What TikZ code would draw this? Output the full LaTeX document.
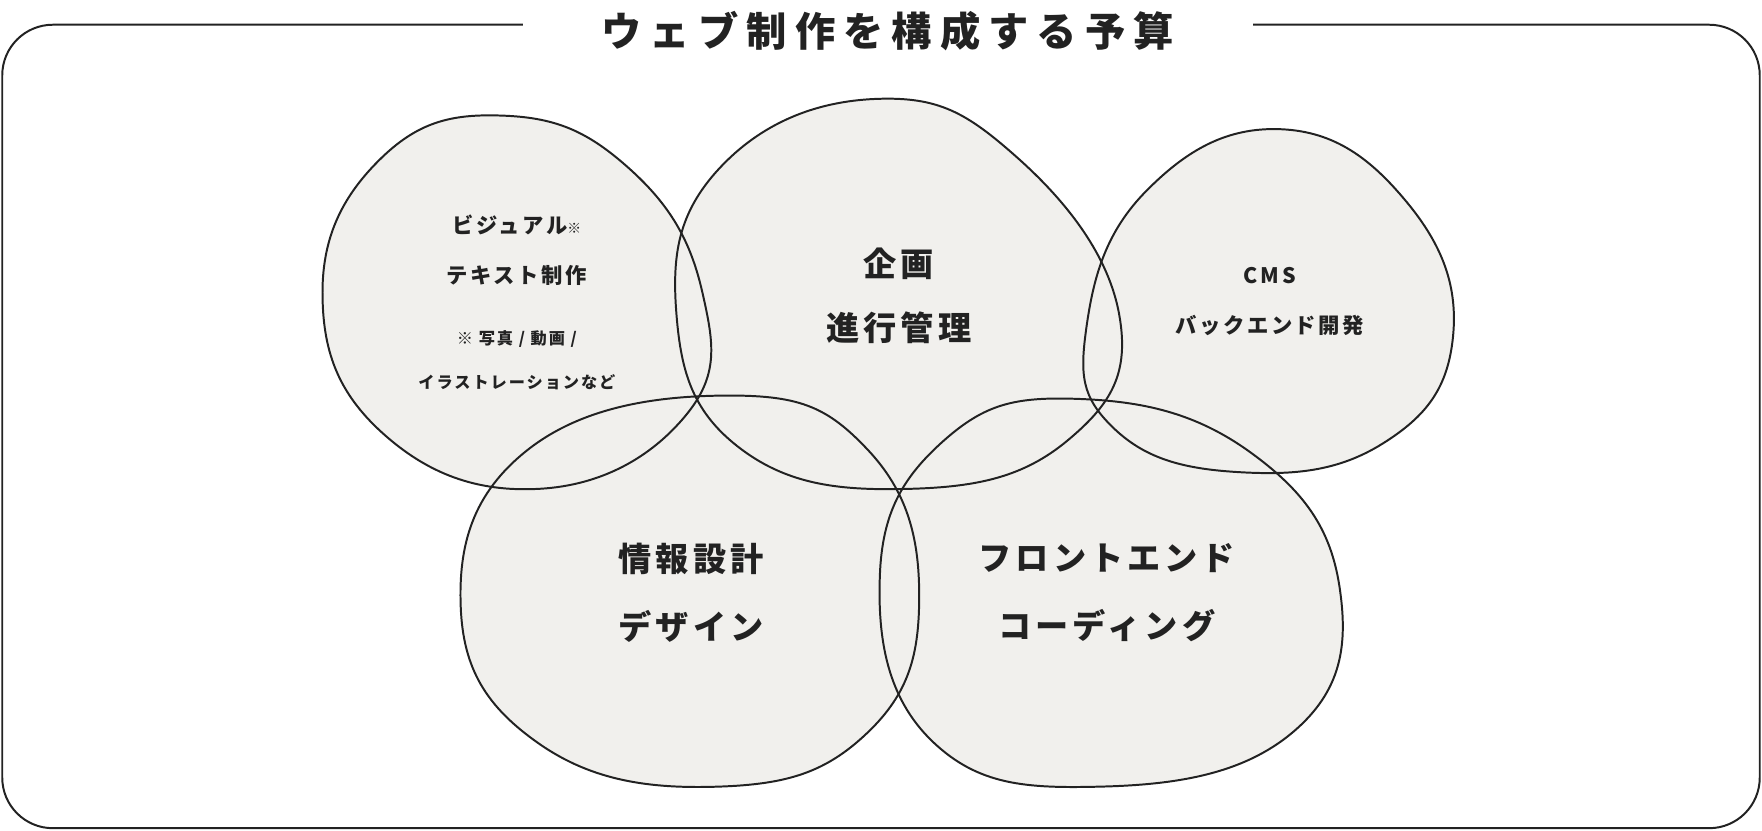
\documentclass[tikz,border=0pt]{standalone}
\usepackage{fontspec}
\newfontfamily\jp[LetterSpace=12]{Noto Sans CJK JP}
\newfontfamily\jpwide[LetterSpace=20]{Noto Sans CJK JP}
\definecolor{ink}{HTML}{222222}
\definecolor{paper}{HTML}{F1F0ED}
\tikzset{
  blob/.style={smooth cycle,tension=0.75},
  biglabel/.style={text=ink,font=\jp\bfseries\fontsize{8.4}{10}\selectfont},
  midlabel/.style={text=ink,font=\jp\bfseries\fontsize{5.4}{7}\selectfont},
  smalllabel/.style={text=ink,font=\jp\bfseries\fontsize{4.1}{5}\selectfont}
}
\begin{document}
\begin{tikzpicture}[x=0.01cm,y=-0.01cm]
  \useasboundingbox[fill=white] (0,0) rectangle (1568,739);

  % frame with gap for the title
  \draw[ink,line width=0.5pt,rounded corners=0.45cm] (2,22) rectangle (1566,737);
  \fill[white] (465,10) rectangle (1115,34);
  \node[text=ink,font=\jpwide\bfseries\fontsize{10.2}{12}\selectfont] (title) at (790,28) {ウェブ制作を構成する予算};

  % blobs
  \def\bA{(450,103) (560,150) (625,260) (610,370) (480,435) (340,385) (287,260) (340,140)}
  \def\bB{(780,88) (905,140) (996,280) (950,392) (810,435) (660,400) (602,280) (640,150)}
  \def\bC{(1140,115) (1252,180) (1293,300) (1230,395) (1100,420) (990,380) (967,290) (1020,170)}
  \def\bD{(650,352) (772,400) (818,530) (772,652) (640,700) (480,662) (410,540) (470,400)}
  \def\bE{(960,355) (1112,402) (1192,522) (1150,652) (980,700) (830,660) (783,512) (840,392)}
  \foreach \b in {\bA,\bB,\bC,\bD,\bE}
    \fill[paper] plot[blob] coordinates {\b};
  \foreach \b in {\bA,\bB,\bC,\bD,\bE}
    \draw[ink,line width=0.5pt] plot[blob] coordinates {\b};

  % labels
  \node[midlabel] (visual) at (460,200) {ビジュアル{\fontsize{3.5}{4}\selectfont ※}};
  \node[midlabel] (text) at (460,245) {テキスト制作};
  \node[smalllabel] (note1) at (460,302) {※ 写真 / 動画 /};
  \node[smalllabel] (note2) at (460,340) {イラストレーションなど};
  \node[biglabel] (plan) at (800,235) {企画};
  \node[biglabel] (manage) at (800,292) {進行管理};
  \node[midlabel] (cms) at (1130,245) {CMS};
  \node[midlabel] (backend) at (1130,290) {バックエンド開発};
  \node[biglabel] (ia) at (615,497) {情報設計};
  \node[biglabel] (design) at (615,557) {デザイン};
  \node[biglabel] (front) at (985,497) {フロントエンド};
  \node[biglabel] (coding) at (985,557) {コーディング};
\end{tikzpicture}
\end{document}
